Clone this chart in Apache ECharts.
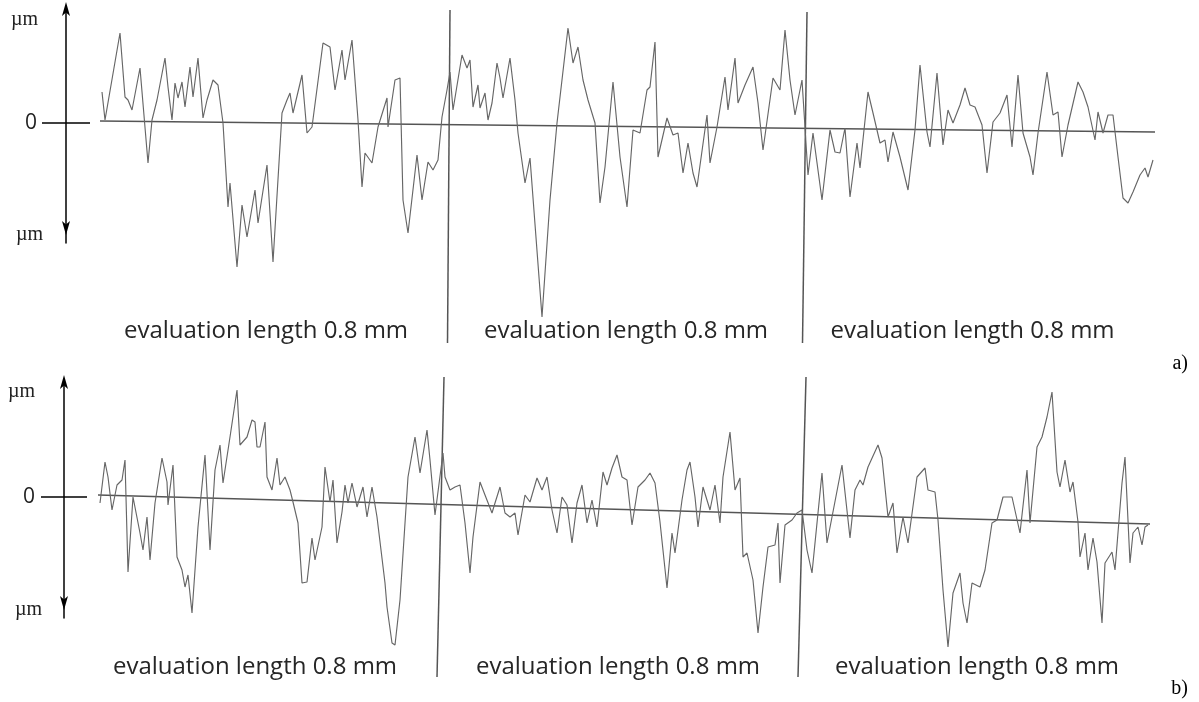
<!DOCTYPE html>
<html>
<head>
<meta charset="utf-8">
<script src="https://cdn.jsdelivr.net/npm/echarts@6/dist/echarts.min.js"></script>
<style>html,body{margin:0;padding:0;background:#fff}#c{width:1199px;height:702px}</style>
</head>
<body>
<div id="c"></div>
<script>
// ---- data (x: position along trace, y: profile height relative to left end of mean line) ----
const profileA_x = [4,10,40,50,56,64,80,96,104,114, 130,136,144,150,156,164,170,180,186,196,
 206,214,226,236,246,256,260,274,284,294, 310,316,334,346,364,374,380,386,404,414,
 424,446,460,470,484,490,504,516,524,530, 544,556,574,576,590,600,606,616,634,644,
 656,666,676,684,694,700,706,724,734,740, 746,756,760,770,776,784,794,800,806,820,
 830,836,850,860,884,900,914,936,946,956, 966,976,990,1000,1010,1026,1040,1054,1066,1080,
 1094,1100,1110,1116,1134,1146,1156,1166,1176,1186, 1194,1214,1220,1234,1250,1256,1270,1276,1290,1306,
 1316,1326,1346,1360,1370,1380,1390,1404,1416,1426, 1444,1460,1470,1480,1490,1500,1514,1520,1536,1546,
 1560,1570,1576,1586,1600,1616,1630,1640,1654,1660, 1674,1686,1696,1706,1720,1730,1740,1750,1764,1774,
 1786,1800,1814,1824,1836,1846,1860,1866,1876,1894, 1906,1916,1924,1936,1956,1966,1976,1990,1996,2006,
 2016,2026,2036,2046,2056,2066,2080,2090,2096,2106];
const profileA_y = [2.9,0.1,8.8,2.4,2.1,1.1,5.3,-4.2,0.1,2.1, 6.3,3.4,0.1,3.8,2.3,3.9,1.4,5.4,2.4,6.3,
 0.3,2.1,4.1,3.6,-0.2,-8.6,-6.2,-14.6,-8.4,-11.6, -6.9,-10.2,-4.4,-14.1,0.8,2.1,2.8,0.8,4.6,-1.2,
 -0.6,7.8,7.4,3.1,7.1,4.1,8.1,0.1,-6.6,-3.2, -4.2,-0.6,2.3,-0.6,4.1,4.3,-7.9,-11.2,-3.4,-7.9,
 -4.1,-4.9,-3.9,0.4,3.1,4.9,1.1,6.6,5.3,6.1, 1.4,3.6,1.3,2.8,0.1,1.8,5.8,4.3,2.3,6.3,
 2.1,-1.2,-6.2,-3.7,-19.6,-7.9,-0.2,9.3,5.8,7.4, 4.1,2.1,-0.2,-8.2,-4.6,3.9,-3.6,-8.6,-0.9,-1.2,
 3.1,3.4,7.9,-3.6,0.3,-1.4,-1.2,-5.2,-2.2,-5.2, -6.6,0.6,-4.2,-0.6,4.4,1.1,6.3,1.8,3.6,5.4,
 1.8,-2.9,4.3,3.1,9.1,4.1,0.6,4.1,-5.4,-1.2, -7.9,-0.9,-3.1,-3.2,-0.7,-7.6,-2.2,-4.7,2.9,0.8,
 -2.2,-1.9,-4.1,-1.1,-3.6,-6.9,-0.9,5.6,-1.1,-2.6, 4.8,-2.4,1.1,-0.2,1.6,3.3,1.6,1.4,-0.4,-5.2,
 -0.1,0.8,2.6,-2.6,4.6,-1.2,-3.6,-5.4,-1.2,4.9, 0.6,0.9,-3.6,-0.4,3.9,2.9,1.4,-1.9,0.9,-1.2,
 0.6,0.6,-3.6,-7.7,-8.2,-7.1,-5.4,-4.7,-5.6,-3.9];
const meanA_x = [0, 2110];
const meanA_y = [0, -1.1];
const sepA1_x = [700, 695], sepA1_y = [11.1, -22.2];
const sepA2_x = [1414, 1405], sepA2_y = [10.9, -22.2];

const profileB_x = [4,14,20,28,38,48,54,60,70,84, 90,98,104,114,128,138,140,150,158,168,
 174,180,188,200,214,224,234,244,250,264, 278,284,298,308,314,318,324,334,338,348,
 358,364,374,384,390,400,408,418,428,434, 448,454,464,470,478,488,494,500,508,518,
 530,538,548,558,574,578,588,594,604,620, 634,644,658,664,674,690,694,704,714,724,
 734,744,750,764,774,788,794,804,814,824, 834,840,854,864,878,888,898,908,918,928,
 938,948,958,968,978,988,998,1010,1018,1028, 1038,1048,1058,1068,1080,1094,1104,1114,1124,1138,
 1148,1154,1168,1178,1184,1194,1200,1210,1224,1234, 1244,1250,1264,1274,1284,1290,1298,1310,1320,1330,
 1340,1354,1360,1364,1374,1388,1398,1408,1418,1428, 1448,1458,1468,1488,1504,1514,1524,1530,1540,1560,
 1568,1580,1590,1598,1610,1620,1638,1654,1660,1674, 1680,1690,1700,1710,1724,1730,1738,1748,1764,1774,
 1788,1798,1810,1828,1844,1858,1864,1878,1888,1898, 1908,1918,1924,1934,1944,1950,1960,1964,1974,1980,
 1990,1998,2008,2014,2028,2034,2048,2054,2064,2070, 2080,2088,2094,2100];
const profileB_y = [-0.8,3.3,1.8,-1.5,1.0,1.5,3.5,-7.7,-0.2,-3.8, -5.5,-2.2,-6.5,-0.8,3.7,1.3,-1.0,3.0,-6.2,-7.5,
 -9.2,-8.0,-11.8,-3.2,4.0,-5.5,2.5,5.0,1.2,5.8, 10.5,5.0,5.8,7.5,7.3,4.8,4.8,7.3,1.8,0.5,
 3.7,1.0,1.8,0.5,-0.7,-2.8,-8.8,-8.7,-4.3,-6.5, -3.2,2.8,-0.7,1.5,-4.8,-1.7,1.0,-0.8,1.2,-1.2,
 0.8,-2.2,0.8,-2.2,-8.8,-11.2,-14.8,-15.0,-10.5,1.8, 5.8,2.2,6.5,3.5,-2.0,4.2,1.8,0.5,0.8,1.0,
 -2.8,-7.8,-4.2,1.3,0.0,-1.8,-0.8,0.8,-1.8,-2.2, -1.8,-4.0,0.0,-0.7,1.7,0.5,1.8,-1.5,-3.8,-0.2,
 -1.0,-4.8,-0.8,1.0,-2.8,-0.5,-3.2,2.3,1.0,2.7, 4.0,1.8,1.5,-3.0,0.8,1.5,2.2,1.2,-2.7,-9.3,
 -3.8,-5.8,-0.5,2.5,3.3,-0.2,-3.2,0.8,-1.5,1.0, -2.8,1.8,6.3,0.5,1.7,-6.2,-5.8,-8.5,-13.8,-9.2,
 -5.2,-5.0,-2.8,-8.8,-3.0,-2.5,-1.8,-1.5,-5.5,-7.8, 2.2,-4.8,-2.2,3.0,-4.3,0.5,1.5,1.0,2.8,5.0,
 3.7,-2.2,-0.8,-5.8,-2.2,-4.8,1.8,2.7,0.5,0.3, -2.5,-9.5,-15.2,-9.8,-7.8,-10.8,-12.8,-8.8,-9.2,-7.5,
 -2.8,-2.5,-0.2,-0.2,-3.8,2.5,-2.8,4.8,5.8,7.8, 10.3,2.3,0.8,3.5,0.3,1.3,-2.7,-6.2,-3.8,-7.5,
 -4.3,-6.7,-12.8,-6.8,-5.7,-7.5,1.2,3.8,-6.8,-3.8, -3.2,-5.0,-3.2,-3.0];
const meanB_x = [0, 2104];
const meanB_y = [0, -2.9];
const sepB1_x = [692, 678], sepB1_y = [11.8, -18.2];
const sepB2_x = [1416, 1400], sepB2_y = [11.8, -18.2];

const sectionLabel = 'evaluation length 0.8 mm';
const labelPosA = [332, 1052, 1745];
const labelPosB = [314, 1040, 1758];
const unitLabel = 'µm';
const zeroLabel = '0';
const panelTags = ['a)', 'b)'];
const zeroTick = [[-1, 0], [1, 0]];

// ---- helpers ----
const zip = (xs, ys) => xs.map((x, i) => [x, ys[i]]);

const profileStyle = { color: '#666', width: 1.15 };
const refStyle = { color: '#555', width: 1.5 };

function lineSeries(xi, data, style, z) {
  return { type: 'line', xAxisIndex: xi, yAxisIndex: xi, data: data, showSymbol: false,
           symbol: 'none', lineStyle: style, z: z || 2, silent: true, animation: false };
}

// arrow axis sits in the middle of its small grid (offset moves it inward)
function arrowAxis(grid, min, max, labelVals, offset, margin, padU, padZ) {
  return {
    gridIndex: grid, type: 'value', min: min, max: max, position: 'left', offset: offset,
    axisLine: { show: true, onZero: false, symbol: ['arrow', 'arrow'], symbolSize: [6, 14],
                symbolOffset: [8, 8],
                lineStyle: { color: '#000', width: 1.5 } },
    axisTick: { show: false }, splitLine: { show: false },
    axisLabel: {
      show: true, customValues: labelVals, margin: margin,
      formatter: v => v === 0 ? '{z|' + zeroLabel + '}' : (v > 0 ? '{u|' + unitLabel + '}' : '{b|' + unitLabel + '}'),
      rich: {
        z: { fontFamily: 'Open Sans', fontSize: 21, color: '#222', padding: [0, padZ, 0, 0] },
        u: { fontFamily: 'Liberation Serif', fontSize: 20, color: '#222', padding: [0, padU, 0, 0] },
        b: { fontFamily: 'Liberation Serif', fontSize: 20, color: '#222', padding: [0, 0, 0, 0] }
      }
    }
  };
}

function mainX(grid, max, labelPos, margin) {
  return {
    gridIndex: grid, type: 'value', min: 0, max: max,
    axisLine: { show: false }, axisTick: { show: false }, splitLine: { show: false },
    axisLabel: { show: true, inside: true, customValues: labelPos, margin: margin,
                 formatter: () => sectionLabel,
                 fontFamily: 'Open Sans', fontSize: 24, color: '#262626' }
  };
}
const hiddenAxis = (grid, min, max) => ({ gridIndex: grid, type: 'value', min: min, max: max, show: false });

const option = {
  animation: false,
  backgroundColor: '#fff',
  title: [
    { text: panelTags[0], right: 6, top: 349, textStyle: { fontFamily: 'Liberation Serif', fontSize: 20, fontWeight: 'normal', color: '#000' } },
    { text: panelTags[1], right: 6, top: 674, textStyle: { fontFamily: 'Liberation Serif', fontSize: 20, fontWeight: 'normal', color: '#000' } }
  ],
  grid: [
    { left: 100, width: 1055, top: 0, height: 350 },
    { left: 98, width: 1055, top: 360, height: 342 },
    { left: 42, width: 48, top: 10, height: 233 },
    { left: 41, width: 46, top: 383, height: 235 }
  ],
  xAxis: [
    mainX(0, 2110, labelPosA, 7),
    mainX(1, 2110, labelPosB, 23),
    hiddenAxis(2, -1, 1),
    hiddenAxis(3, -1, 1)
  ],
  yAxis: [
    hiddenAxis(0, -22.9, 12.1),
    hiddenAxis(1, -20.7, 13.5),
    arrowAxis(2, -120, 113, [103, 0, -112], -24, 23, 5, 6),
    arrowAxis(3, -121, 114, [105, 0, -113], -23, 22, 7, 7)
  ],
  series: [
    lineSeries(0, zip(meanA_x, meanA_y), refStyle, 2),
    lineSeries(0, zip(sepA1_x, sepA1_y), refStyle, 2),
    lineSeries(0, zip(sepA2_x, sepA2_y), refStyle, 2),
    lineSeries(0, zip(profileA_x, profileA_y), profileStyle, 3),
    lineSeries(1, zip(meanB_x, meanB_y), refStyle, 2),
    lineSeries(1, zip(sepB1_x, sepB1_y), refStyle, 2),
    lineSeries(1, zip(sepB2_x, sepB2_y), refStyle, 2),
    lineSeries(1, zip(profileB_x, profileB_y), profileStyle, 3),
    lineSeries(2, zeroTick, { color: '#000', width: 1.3 }, 2),
    lineSeries(3, zeroTick, { color: '#000', width: 1.3 }, 2)
  ]
};

const chart = echarts.init(document.getElementById('c'), null, { renderer: 'canvas' });
chart.setOption(option);
</script>
</body>
</html>
